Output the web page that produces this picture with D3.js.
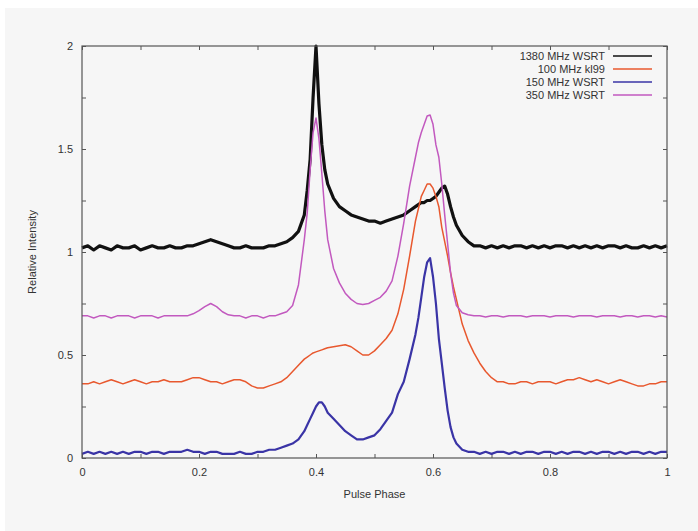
<!DOCTYPE html>
<html lang="en">
    <head>
        <meta charset="utf-8">
        <title>Pulse profiles</title>
        <script type="text/javascript" src="https://cdn.jsdelivr.net/npm/d3@7"></script>
        <style>
            body { margin: 0; background: #ffffff; }
            text { font-family: "Liberation Sans", Arial, sans-serif; fill: #333; }
        </style>
    </head>
    <body>
        <script type="text/javascript">
            // pulse phase samples (finer around the two components)
            var phase = [0.00,0.01,0.02,0.03,0.04,0.05,0.06,0.07,0.08,0.09,0.10,0.11,0.12,0.13,0.14,0.15,0.16,0.17,0.18,0.19,
                0.20,0.21,0.22,0.23,0.24,0.25,0.26,0.27,0.28,0.29,0.30,0.31,0.32,0.33,0.34,0.35,0.36,0.37,0.38,
                0.385,0.39,0.395,0.40,0.405,0.41,0.415,0.42,
                0.43,0.44,0.45,0.46,0.47,0.48,0.49,0.50,0.51,0.52,0.53,0.54,0.55,0.56,0.57,
                0.575,0.58,0.585,0.59,0.595,0.60,0.605,0.61,0.615,0.62,0.625,0.63,0.635,
                0.64,0.65,0.66,0.67,0.68,0.69,0.70,0.71,0.72,0.73,0.74,0.75,0.76,0.77,0.78,0.79,0.80,0.81,0.82,0.83,
                0.84,0.85,0.86,0.87,0.88,0.89,0.90,0.91,0.92,0.93,0.94,0.95,0.96,0.97,0.98,0.99,1.00];

            var wsrt1380 = [1.02,1.03,1.01,1.03,1.02,1.01,1.03,1.02,1.02,1.03,1.01,1.02,1.03,1.02,1.02,1.03,1.02,1.02,1.03,1.03,
                1.04,1.05,1.06,1.05,1.04,1.03,1.02,1.02,1.03,1.02,1.02,1.02,1.03,1.03,1.04,1.05,1.07,1.10,1.18,
                1.30,1.45,1.75,2.00,1.72,1.52,1.40,1.33,
                1.26,1.22,1.20,1.18,1.17,1.16,1.15,1.15,1.14,1.15,1.16,1.17,1.18,1.20,1.22,
                1.23,1.24,1.24,1.25,1.25,1.26,1.27,1.29,1.31,1.32,1.28,1.22,1.17,
                1.13,1.08,1.05,1.03,1.03,1.02,1.03,1.02,1.03,1.02,1.03,1.03,1.02,1.03,1.02,1.03,1.02,1.03,1.03,1.02,
                1.03,1.02,1.03,1.02,1.03,1.02,1.03,1.03,1.02,1.03,1.02,1.02,1.03,1.02,1.03,1.02,1.03];

            var kl100 = [0.36,0.36,0.37,0.36,0.37,0.38,0.37,0.36,0.37,0.38,0.37,0.36,0.37,0.37,0.38,0.37,0.37,0.37,0.38,0.39,
                0.39,0.38,0.37,0.37,0.36,0.37,0.38,0.38,0.37,0.35,0.34,0.34,0.35,0.36,0.37,0.39,0.42,0.45,0.48,
                0.49,0.50,0.51,0.515,0.52,0.525,0.53,0.535,
                0.54,0.545,0.55,0.54,0.52,0.50,0.50,0.52,0.55,0.58,0.62,0.70,0.82,0.98,1.15,
                1.21,1.27,1.30,1.33,1.33,1.31,1.27,1.22,1.12,1.05,0.98,0.90,0.83,
                0.77,0.65,0.57,0.51,0.46,0.42,0.39,0.37,0.37,0.36,0.36,0.37,0.37,0.36,0.37,0.37,0.37,0.36,0.37,0.38,
                0.38,0.39,0.38,0.37,0.38,0.37,0.36,0.37,0.38,0.37,0.36,0.35,0.35,0.36,0.36,0.37,0.37];

            var wsrt150 = [0.02,0.03,0.02,0.03,0.02,0.03,0.02,0.03,0.02,0.03,0.03,0.02,0.03,0.03,0.02,0.03,0.03,0.03,0.04,0.03,
                0.03,0.02,0.03,0.03,0.02,0.02,0.02,0.03,0.02,0.02,0.03,0.03,0.04,0.04,0.05,0.06,0.07,0.09,0.13,
                0.16,0.19,0.22,0.25,0.27,0.27,0.25,0.22,
                0.19,0.16,0.13,0.11,0.09,0.09,0.10,0.11,0.14,0.18,0.22,0.31,0.37,0.48,0.60,
                0.68,0.78,0.88,0.95,0.97,0.88,0.75,0.58,0.46,0.34,0.23,0.15,0.10,
                0.07,0.04,0.03,0.03,0.02,0.03,0.02,0.03,0.03,0.02,0.03,0.02,0.03,0.03,0.02,0.03,0.03,0.02,0.03,0.02,
                0.03,0.03,0.02,0.03,0.02,0.03,0.03,0.02,0.03,0.02,0.03,0.03,0.02,0.03,0.02,0.03,0.03];

            var wsrt350 = [0.69,0.69,0.68,0.69,0.69,0.68,0.69,0.69,0.69,0.68,0.69,0.69,0.69,0.68,0.69,0.69,0.69,0.69,0.69,0.70,
                0.715,0.735,0.75,0.735,0.71,0.695,0.69,0.69,0.68,0.69,0.69,0.68,0.69,0.69,0.70,0.71,0.74,0.84,1.06,
                1.19,1.40,1.58,1.65,1.55,1.38,1.20,1.06,
                0.92,0.85,0.80,0.77,0.75,0.745,0.75,0.765,0.78,0.81,0.86,0.98,1.14,1.32,1.46,
                1.53,1.58,1.62,1.66,1.665,1.62,1.52,1.46,1.33,1.18,1.04,0.90,0.80,
                0.74,0.705,0.695,0.69,0.69,0.685,0.69,0.69,0.685,0.69,0.69,0.69,0.685,0.69,0.69,0.69,0.685,0.69,0.69,0.69,
                0.685,0.69,0.69,0.69,0.685,0.69,0.69,0.69,0.685,0.69,0.69,0.685,0.69,0.69,0.685,0.69,0.685];

            var seriesNames = ["1380 MHz WSRT", "100 MHz kl99", "150 MHz WSRT", "350 MHz WSRT"];
            var seriesColors = ["#111111", "#e8582e", "#3a34a6", "#c259bf"];
            var seriesWidths = [3.2, 1.5, 2.2, 1.5];
            var seriesValues = [wsrt1380, kl100, wsrt150, wsrt350];

            var xTicks = [0, 0.2, 0.4, 0.6, 0.8, 1];
            var yTicks = [0, 0.5, 1, 1.5, 2];

            var w = 698, h = 531;
            var padLeft = 82, padRight = 667, padTop = 46, padBottom = 458;

            var svg = d3.select("body").append("svg").attr("width", w).attr("height", h);
            svg.append("rect").attr("x", 5).attr("y", 8).attr("width", w - 5).attr("height", h - 8).attr("fill", "#f6f6f6");

            var xscale = d3.scaleLinear().domain([0, 1]).range([padLeft, padRight]);
            var yscale = d3.scaleLinear().domain([0, 2]).range([padBottom, padTop]);

            // ticks pointing inward, mirrored like gnuplot
            function tickAxis(axis, size) {
                return axis.tickSizeInner(size).tickSizeOuter(0).tickPadding(8);
            }
            var tickColor = "#555";
            var xMinor = [0, 0.1, 0.2, 0.3, 0.4, 0.5, 0.6, 0.7, 0.8, 0.9, 1];
            var yMinor = [0, 0.25, 0.5, 0.75, 1, 1.25, 1.5, 1.75, 2];

            var gxb = svg.append("g").attr("transform", "translate(0," + padBottom + ")")
                .call(tickAxis(d3.axisBottom(xscale).tickValues(xMinor).tickFormat(""), -4));
            var gxt = svg.append("g").attr("transform", "translate(0," + padTop + ")")
                .call(tickAxis(d3.axisTop(xscale).tickValues(xMinor).tickFormat(""), -4));
            var gyl = svg.append("g").attr("transform", "translate(" + padLeft + ",0)")
                .call(tickAxis(d3.axisLeft(yscale).tickValues(yMinor).tickFormat(""), -4));
            var gyr = svg.append("g").attr("transform", "translate(" + padRight + ",0)")
                .call(tickAxis(d3.axisRight(yscale).tickValues(yMinor).tickFormat(""), -4));
            [gxb, gxt, gyl, gyr].forEach(function(g) {
                g.selectAll("path").remove();
                g.selectAll("text").remove();
                g.selectAll("line").attr("stroke", tickColor);
            });

            // tick labels
            svg.append("g").attr("transform", "translate(0," + padBottom + ")")
                .call(d3.axisBottom(xscale).tickValues(xTicks).tickFormat(d3.format("")).tickSize(0).tickPadding(10))
                .call(function(g) { g.select(".domain").remove(); })
                .selectAll("text").attr("font-size", 11).attr("fill", "#333")
                .attr("font-family", "'Liberation Sans', Arial, sans-serif");
            svg.append("g").attr("transform", "translate(" + padLeft + ",0)")
                .call(d3.axisLeft(yscale).tickValues(yTicks).tickFormat(d3.format("")).tickSize(0).tickPadding(9))
                .call(function(g) { g.select(".domain").remove(); })
                .selectAll("text").attr("font-size", 11).attr("fill", "#333")
                .attr("font-family", "'Liberation Sans', Arial, sans-serif");

            // curves
            var line = d3.line()
                .x(function(d, i) { return xscale(phase[i]); })
                .y(function(d) { return yscale(d); });

            var plot = svg.append("g");
            for (var s = 0; s < seriesValues.length; s++) {
                plot.append("path").datum(seriesValues[s])
                    .attr("d", line)
                    .attr("fill", "none")
                    .attr("stroke", seriesColors[s])
                    .attr("stroke-width", seriesWidths[s])
                    .attr("stroke-linejoin", "round");
            }

            // frame
            svg.append("rect").attr("x", padLeft).attr("y", padTop)
                .attr("width", padRight - padLeft).attr("height", padBottom - padTop)
                .attr("fill", "none").attr("stroke", "#555").attr("stroke-width", 1.2);

            // legend
            var legend = svg.append("g");
            for (var k = 0; k < seriesNames.length; k++) {
                var ly = 56 + k * 13;
                legend.append("text").attr("x", 605).attr("y", ly).attr("dy", "0.35em")
                    .attr("text-anchor", "end").attr("font-size", 11).text(seriesNames[k]);
                legend.append("line").attr("x1", 613).attr("x2", 652).attr("y1", ly).attr("y2", ly)
                    .attr("stroke", seriesColors[k]).attr("stroke-width", 1.5);
            }

            // axis titles
            svg.append("text").attr("x", (padLeft + padRight) / 2).attr("y", 498)
                .attr("text-anchor", "middle").attr("font-size", 11).text("Pulse Phase");
            svg.append("text").attr("transform", "translate(36," + yscale(1) + ") rotate(-90)")
                .attr("text-anchor", "middle").attr("font-size", 11).text("Relative Intensity");
        </script>
    </body>
</html>
